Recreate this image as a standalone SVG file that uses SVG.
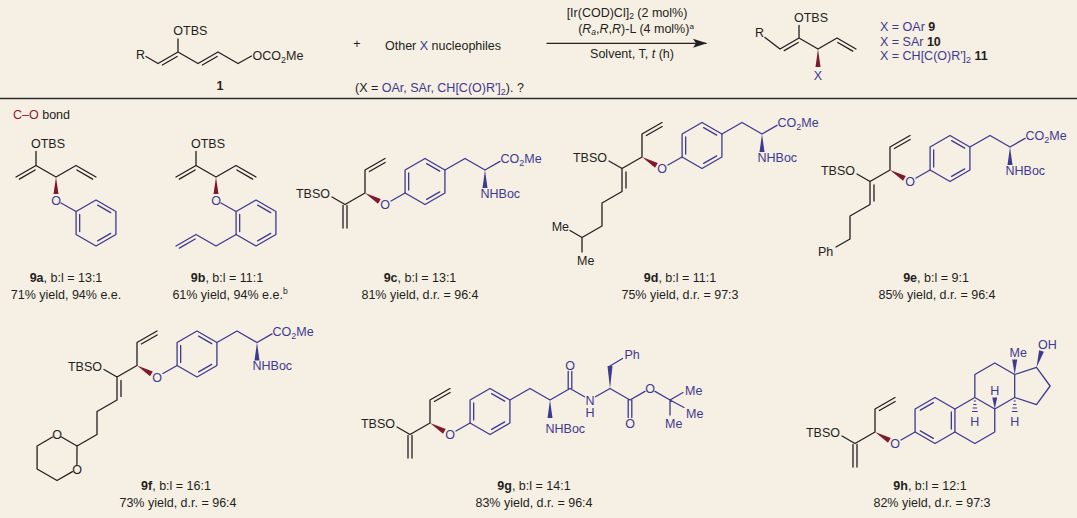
<svg xmlns="http://www.w3.org/2000/svg" width="1077" height="518" viewBox="0 0 1077 518">
<style>
text{font-family:"Liberation Sans",Arial,Helvetica,sans-serif;font-size:12.5px;fill:#231f20}
.k{stroke:#231f20;fill:none;stroke-width:1.3;stroke-linecap:round;stroke-linejoin:round}
.b{stroke:#3d3a8f;fill:none;stroke-width:1.3;stroke-linecap:round;stroke-linejoin:round}
.h{stroke:#3d3a8f;fill:none;stroke-width:1}
.wr{fill:#7d1b2d}
.wb{fill:#3d3a8f}
.tb{fill:#3d3a8f}
.tr{fill:#8c1d2e}
.bd{font-weight:bold}
.it{font-style:italic}
.m{text-anchor:middle}
.e{text-anchor:end}
</style>
<defs>
<g id="bz"><polygon points="0,-23 19.92,-11.5 19.92,11.5 0,23 -19.92,11.5 -19.92,-11.5"/><path d="M-16.33,-8.5 L-16.33,8.5 M1.63,-17.92 L14.7,-10.37 M14.7,10.37 L1.63,17.92"/></g>
<g id="bz2"><polygon points="0,-23 19.92,-11.5 19.92,11.5 0,23 -19.92,11.5 -19.92,-11.5"/><path d="M-14.7,-10.37 L-1.63,-17.92 M16.33,-8.5 L16.33,8.5 M-1.63,17.92 L-14.7,10.37"/></g>
<marker id="ah" markerWidth="14" markerHeight="10" refX="13" refY="5" orient="auto" markerUnits="userSpaceOnUse"><path d="M0,0.5 L14,5 L0,9.5 L3,5 Z" fill="#231f20"/></marker>
</defs>
<rect x="0" y="0" width="1077" height="518" fill="#f6efe4"/>

<g id="cpd1">
<path class="k" d="M146,56.5 L158,63.5 L178,52 L198,63.5 L218,52 L238,63.5 L251.5,56 M178,52 L178,39 M162.35,65.03 L177.15,56.53 M202.35,65.03 L217.15,56.53"/>
<text class="e" x="145" y="58.5">R</text>
<text x="173.3" y="35">OTBS</text>
<text x="252.5" y="59.5">OCO<tspan font-size="9" dy="3">2</tspan><tspan dy="-3">Me</tspan></text>
<text class="m bd" x="220" y="90">1</text>
</g>

<g id="reagents">
<text class="m" x="357" y="48">+</text>
<text x="385" y="50">Other <tspan class="tb">X</tspan> nucleophiles</text>
<text x="355" y="92">(X = <tspan class="tb">OAr, SAr, CH[C(O)R']<tspan font-size="9" dy="3">2</tspan></tspan><tspan dy="-3">). ?</tspan></text>
</g>

<g id="connectors">
<line class="k" x1="547" y1="43.3" x2="706" y2="43.3" marker-end="url(#ah)"/>
<line x1="0" y1="98.5" x2="1077" y2="98.5" stroke="#2b2b2b" stroke-width="1.6"/>
</g>

<g id="conditions">
<text class="m" x="627" y="16.5">[Ir(COD)Cl]<tspan font-size="8.5" dy="2.5">2</tspan><tspan dy="-2.5"> (2 mol%)</tspan></text>
<text class="m" x="636" y="32.5">(<tspan class="it">R</tspan><tspan class="it" font-size="8.5" dy="2.5">a</tspan><tspan dy="-2.5">,</tspan><tspan class="it">R</tspan>,<tspan class="it">R</tspan>)-L (4 mol%)<tspan font-size="8" dy="-4">a</tspan></text>
<text class="m" x="632" y="58">Solvent, T, <tspan class="it">t</tspan> (h)</text>
</g>

<g id="product">
<path class="k" d="M765,37.5 L780,49 L799,38 L818,49 L837,38 L856,49 M799,38 L799,25.5 M784.25,50.58 L798.25,42.48 M837.75,42.48 L852.75,51.16"/>
<polygon class="wr" points="818,49 815.5,67 820.5,67"/>
<text class="e" x="764" y="36.5">R</text>
<text x="794" y="21.5">OTBS</text>
<text class="m tb" x="818" y="80">X</text>
<text class="tb" x="880" y="31">X = OAr <tspan class="bd" fill="#231f20">9</tspan></text>
<text class="tb" x="880" y="45.5">X = SAr <tspan class="bd" fill="#231f20">10</tspan></text>
<text class="tb" x="880" y="60">X = CH[C(O)R']<tspan font-size="9" dy="3">2</tspan><tspan dy="-3"> </tspan><tspan class="bd" fill="#231f20">11</tspan></text>
</g>

<g id="section">
<text x="13" y="118.5"><tspan class="tr">C–O</tspan> bond</text>
</g>

<g id="c9a">
<path class="k" d="M36,165.5 L56,177 L76,165.5 L96,177 M36,165.5 L16,177 M36,165.5 L36,151.5 M35.15,170.03 L19.35,179.11 M76.85,170.03 L92.65,179.11"/>
<polygon class="wr" points="56,177 53.5,194 58.5,194"/>
<text class="m tb" x="56" y="204.5">O</text>
<path class="b" d="M61,203 L76.08,211.5"/>
<use href="#bz" x="96" y="223" class="b"/>
<text x="31" y="148">OTBS</text>
<text class="m" x="66" y="282"><tspan class="bd">9a</tspan>, b:l = 13:1</text>
<text class="m" x="66" y="299">71% yield, 94% e.e.</text>
</g>

<g id="c9b">
<path class="k" d="M196,165.5 L216,177 L236,165.5 L256,177 M196,165.5 L176,177 M196,165.5 L196,151.5 M195.15,170.03 L179.35,179.11 M236.85,170.03 L252.65,179.11"/>
<polygon class="wr" points="216,177 213.5,194 218.5,194"/>
<text class="m tb" x="216" y="204.5">O</text>
<path class="b" d="M221,203 L236.08,211.5 M236.08,234.5 L216,246 L196,234.5 L176,246 M195.15,239.03 L179.35,248.11"/>
<use href="#bz" x="256" y="223" class="b"/>
<text x="191" y="148">OTBS</text>
<text class="m" x="227" y="282"><tspan class="bd">9b</tspan>, b:l = 11:1</text>
<text class="m" x="230" y="299">61% yield, 94% e.e.<tspan font-size="8.5" dy="-5">b</tspan></text>
</g>

<g id="c9c">
<path class="k" d="M332,197 L345,204.5 L365,193 L365,170 L385,158.5 M369.35,171.53 L385.15,162.45 M343,205.5 L343,228 M347,205.5 L347,228"/>
<polygon class="wr" points="365,193 380.78,198.91 378.03,203.69"/>
<text class="m tb" x="385" y="209">O</text>
<path class="b" d="M391,201.05 L405.08,193 M444.92,170 L465,158.5 L485,170 L500,161.4"/>
<use href="#bz" x="425" y="181.5" class="b"/>
<polygon class="wb" points="485,170 482.5,188 487.5,188"/>
<text class="e" x="330" y="198">TBSO</text>
<text class="tb" x="500.5" y="163">CO<tspan font-size="9" dy="3">2</tspan><tspan dy="-3">Me</tspan></text>
<text class="tb" x="480.5" y="197.5">NHBoc</text>
<text class="m" x="420" y="282"><tspan class="bd">9c</tspan>, b:l = 13:1</text>
<text class="m" x="420" y="299">81% yield, d.r. = 96:4</text>
</g>

<g id="c9d">
<path class="k" d="M609,161 L622,168.5 L642,157 L642,134 L662,122.5 M646.35,135.53 L662.15,126.45 M622,168.5 L622,191.5 L602,203 L602,226 L582,237.5 L582,252 M582,237.5 L570,230.5 M626,172 L626,188"/>
<polygon class="wr" points="642,157 657.78,162.91 655.03,167.69"/>
<text class="m tb" x="662" y="173">O</text>
<path class="b" d="M668,165.05 L682.08,157 M721.92,134 L742,122.5 L762,134 L777,125.4"/>
<use href="#bz" x="702" y="145.5" class="b"/>
<polygon class="wb" points="762,134 759.5,152 764.5,152"/>
<text class="e" x="607" y="162">TBSO</text>
<text class="tb" x="777.5" y="127">CO<tspan font-size="9" dy="3">2</tspan><tspan dy="-3">Me</tspan></text>
<text class="tb" x="757.5" y="161.5">NHBoc</text>
<text class="e" x="569" y="231">Me</text>
<text x="577" y="265">Me</text>
<text class="m" x="680" y="282"><tspan class="bd">9d</tspan>, b:l = 11:1</text>
<text class="m" x="680" y="299">75% yield, d.r. = 97:3</text>
</g>

<g id="c9e">
<path class="k" d="M857,174 L870,181.5 L890,170 L890,147 L910,135.5 M894.35,148.53 L910.15,139.45 M870,181.5 L870,204.5 L850,216 L850,239 L836,247 M874,185 L874,201"/>
<polygon class="wr" points="890,170 905.78,175.91 903.03,180.69"/>
<text class="m tb" x="910" y="186">O</text>
<path class="b" d="M916,178.05 L930.08,170 M969.92,147 L990,135.5 L1010,147 L1025,138.4"/>
<use href="#bz" x="950" y="158.5" class="b"/>
<polygon class="wb" points="1010,147 1007.5,165 1012.5,165"/>
<text class="e" x="855" y="175">TBSO</text>
<text class="tb" x="1025.5" y="140">CO<tspan font-size="9" dy="3">2</tspan><tspan dy="-3">Me</tspan></text>
<text class="tb" x="1005.5" y="174.5">NHBoc</text>
<text x="818" y="256">Ph</text>
<text class="m" x="936" y="282"><tspan class="bd">9e</tspan>, b:l = 9:1</text>
<text class="m" x="937" y="299">85% yield, d.r. = 96:4</text>
</g>

<g id="c9f">
<path class="k" d="M104,369.5 L117,377 L137,365.5 L137,342.5 L157,331 M141.35,344.03 L157.15,334.95 M117,377 L117,400 L97,411.5 L97,434.5 L77,446 M121,380.5 L121,396.5 M77,446 L61.5,437 M52.5,437 L37.08,446 L37.08,469 L57,480.5 L72.4,471.6 M76.92,464.5 L77,446"/>
<text class="m" x="57" y="439">O</text>
<text class="m" x="77" y="473.5">O</text>
<polygon class="wr" points="137,365.5 152.78,371.41 150.03,376.19"/>
<text class="m tb" x="157" y="381.5">O</text>
<path class="b" d="M163,373.55 L177.08,365.5 M216.92,342.5 L237,331 L257,342.5 L272,333.9"/>
<use href="#bz" x="197" y="354" class="b"/>
<polygon class="wb" points="257,342.5 254.5,360.5 259.5,360.5"/>
<text class="e" x="102" y="370.5">TBSO</text>
<text class="tb" x="272.5" y="335.5">CO<tspan font-size="9" dy="3">2</tspan><tspan dy="-3">Me</tspan></text>
<text class="tb" x="252.5" y="370">NHBoc</text>
<text class="m" x="176" y="490"><tspan class="bd">9f</tspan>, b:l = 16:1</text>
<text class="m" x="178" y="507">73% yield, d.r. = 96:4</text>
</g>

<g id="c9g">
<path class="k" d="M397,427 L410,434.5 L430,423 L430,400 L450,388.5 M434.35,401.53 L450.15,392.45 M408,435.5 L408,458 M412,435.5 L412,458"/>
<polygon class="wr" points="430,423 445.78,428.91 443.03,433.69"/>
<text class="m tb" x="450" y="439">O</text>
<path class="b" d="M456,431.05 L470.08,423 M509.92,400 L530,388.5 L550,400 L570,388.5 L584.5,396.8 M595.5,396.8 L610,388.5 L630,400 L645,391.4 M655,391.4 L670,400 L683,392.5 M670,400 L684,407.5 M670,400 L670,415 M610,366 L622.5,358.5 M568.2,388.5 L568.2,371.5 M571.8,388.5 L571.8,371.5 M628.2,400 L628.2,417.5 M631.8,400 L631.8,417.5"/>
<use href="#bz" x="490" y="411.5" class="b"/>
<polygon class="wb" points="550,400 547.5,418 552.5,418"/>
<polygon class="wb" points="610,388.5 607.5,366 612.5,366"/>
<text class="e" x="395" y="428">TBSO</text>
<text class="m tb" x="570" y="370">O</text>
<text class="m tb" x="590" y="404.5">N</text>
<text class="m tb" x="590" y="416.5">H</text>
<text class="m tb" x="630" y="428">O</text>
<text class="m tb" x="650" y="393">O</text>
<text class="tb" x="685" y="394.5">Me</text>
<text class="tb" x="686" y="417.5">Me</text>
<text class="tb" x="665" y="427.5">Me</text>
<text class="tb" x="624.5" y="359">Ph</text>
<text class="tb" x="545.5" y="433">NHBoc</text>
<text class="m" x="534" y="490"><tspan class="bd">9g</tspan>, b:l = 14:1</text>
<text class="m" x="534" y="507">83% yield, d.r. = 96:4</text>
</g>

<g id="c9h">
<path class="k" d="M842,436 L855,443.5 L875,432 L875,409 L895,397.5 M879.35,410.53 L895.15,401.45 M853,444.5 L853,467 M857,444.5 L857,467"/>
<polygon class="wr" points="875,432 890.78,437.91 888.03,442.69"/>
<text class="m tb" x="895" y="448">O</text>
<path class="b" d="M901,440.05 L915.08,432 M954.92,409 L974.84,397.5 L994.76,409 L994.76,432 L974.84,443.5 L954.92,432 M974.84,397.5 L974.84,374.5 L994.76,363 L1014.68,374.5 L1014.68,397.5 L994.76,409 M1014.68,374.5 L1036.5,367.4 L1050.1,386 L1036.5,404.6 L1014.68,397.5"/>
<use href="#bz2" x="935" y="420.5" class="b"/>
<polygon class="wb" points="1014.68,374.5 1012.2,359.5 1017.2,359.5"/>
<polygon class="wb" points="1036.5,367.4 1043.89,351.73 1039.11,350.27"/>
<polygon class="wb" points="994.76,409 992.3,397.5 997.2,397.5"/>
<path class="h" d="M973.8,401 L975.9,401 M973.2,404.5 L976.5,404.5 M972.6,408 L977.1,408 M972,411.5 L977.7,411.5 M1013.6,401 L1015.7,401 M1013,404.5 L1016.3,404.5 M1012.4,408 L1016.9,408 M1011.8,411.5 L1017.5,411.5"/>
<text class="e" x="840" y="437">TBSO</text>
<text class="tb" x="1009.5" y="357">Me</text>
<text class="tb" x="1038" y="349">OH</text>
<text class="m tb" x="994.76" y="395">H</text>
<text class="m tb" x="974.84" y="425.5">H</text>
<text class="m tb" x="1014.68" y="425.5">H</text>
<text class="m" x="930" y="490"><tspan class="bd">9h</tspan>, b:l = 12:1</text>
<text class="m" x="932" y="507">82% yield, d.r. = 97:3</text>
</g>
</svg>
